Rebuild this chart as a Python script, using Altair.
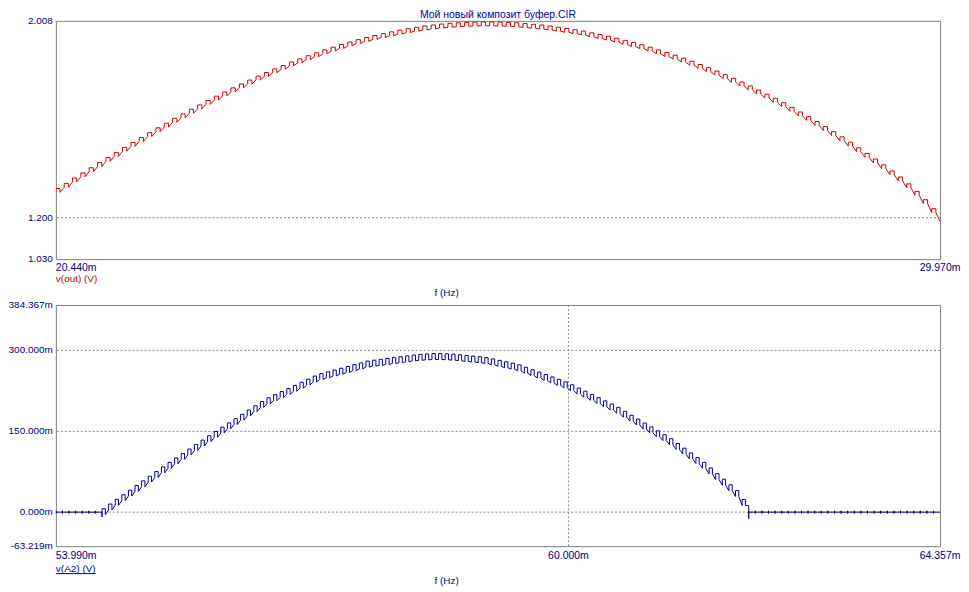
import altair as alt
import pandas as pd

TITLE = "Мой новый композит буфер.CIR"

# ---------------- top panel data (v(out), V) ----------------
top_x_domain = [20.440, 29.970]
top_y_domain = [1.030, 2.008]
# level of each ripple period, read left to right
top_levels = [
    1.312, 1.333, 1.355, 1.376, 1.397, 1.418, 1.439, 1.460, 1.481, 1.501,
    1.521, 1.541, 1.561, 1.580, 1.600, 1.618, 1.637, 1.655, 1.673, 1.691,
    1.708, 1.725, 1.741, 1.757, 1.773, 1.788, 1.803, 1.817, 1.831, 1.844,
    1.857, 1.869, 1.881, 1.892, 1.903, 1.913, 1.923, 1.932, 1.940, 1.948,
    1.955, 1.962, 1.968, 1.974, 1.979, 1.983, 1.987, 1.990, 1.992, 1.994,
    1.995, 1.996,
    1.996, 1.995, 1.994, 1.992, 1.989, 1.986, 1.983, 1.979, 1.974, 1.969,
    1.964, 1.958, 1.951, 1.944, 1.937, 1.929, 1.920, 1.911, 1.902, 1.892,
    1.881, 1.870, 1.859, 1.847, 1.834, 1.821, 1.808, 1.794, 1.779, 1.764,
    1.749, 1.733, 1.716, 1.699, 1.682, 1.664, 1.645, 1.626, 1.607, 1.587,
    1.566, 1.545, 1.524, 1.502, 1.479, 1.456, 1.433, 1.409, 1.384, 1.359,
    1.331, 1.300, 1.266, 1.229, 1.192,
]
top_ripple = 0.008
top_grid_y = [1.200]
top_y_ticks = [1.030, 1.200, 2.008]
top_y_labels = ["1.030", "1.200", "2.008"]
top_x_ticks = [20.440, 29.970]
top_x_labels = ["20.440m", "29.970m"]
top_series = "v(out) (V)"

# ---------------- bottom panel data (v(A2), mV) ----------------
bot_x_domain = [53.990, 64.357]
bot_y_domain = [-63.219, 384.367]
bot_periods = 134
bot_first_active = 7
bot_levels = [
    0.9, 9.6, 18.2, 26.8, 35.4, 44.0, 52.6, 61.2, 69.8, 78.4,
    86.8, 95.1, 103.4, 111.6, 119.9, 128.2, 136.3, 144.2, 152.2, 160.1,
    168.1, 176.0, 184.0, 191.9, 199.8, 206.7, 212.5, 218.2, 224.0, 229.7,
    235.5, 241.2, 247.0, 251.6, 254.9, 258.2, 261.5, 264.8, 268.1, 271.4,
    274.7, 276.5, 278.0, 279.6, 281.2, 282.8, 284.4, 286.0, 287.3, 288.1,
    288.8, 288.7, 288.3, 287.6, 286.4, 285.2, 284.1, 282.9, 281.4, 278.8,
    276.1, 273.5, 270.9, 267.8, 263.3, 258.8, 254.3, 249.8, 245.3, 240.8,
    236.3, 230.8, 224.8, 218.9, 212.9, 207.0, 201.0, 195.0, 188.9, 181.6,
    174.3, 167.1, 159.8, 152.6, 145.4, 138.2, 130.7, 122.0, 113.2, 104.4,
    95.7, 86.9, 76.5, 66.0, 55.6, 45.2, 34.6, 18.0,
]
bot_ripple = 5.5
bot_idle_tick = 2.5
bot_glitches = [-9.0, -12.0]
bot_grid_y = [0.0, 150.0, 300.0]
bot_grid_x = [60.0]
bot_y_ticks = [-63.219, 0.0, 150.0, 300.0, 384.367]
bot_y_labels = ["-63.219m", "0.000m", "150.000m", "300.000m", "384.367m"]
bot_x_ticks = [53.990, 60.000, 64.357]
bot_x_labels = ["53.990m", "60.000m", "64.357m"]
bot_series = "v(A2) (V)"

AXIS_TITLE = "f (Hz)"

# ---------------- styling ----------------
FONT = "Liberation Sans"
NAVY = "#000080"
TITLE_BLUE = "#0000a8"
RED = "#cc0000"
BLUE_LINE = "#000099"
GRID = "#888888"
FRAME = "#808080"
W = 887
H_TOP = 239
H_BOT = 242


def tooth(rows, xa, xm, lv, a):
    # up-jump at period start, flat high half, down-jump at half period,
    # low half runs on to the next period's low level
    rows += [(xa, lv - a), (xa, lv + a), (xm, lv + a), (xm, lv - a)]


def top_path():
    n = len(top_levels) - 1
    p = (top_x_domain[1] - top_x_domain[0]) / n
    rows = []
    for i, lv in enumerate(top_levels[:-1]):
        xa = top_x_domain[0] + i * p
        tooth(rows, xa, xa + p / 2, lv, top_ripple)
    rows.append((top_x_domain[1], top_levels[-1] - top_ripple))
    return pd.DataFrame({"x": [r[0] for r in rows], "y": [r[1] for r in rows],
                         "idx": list(range(len(rows)))})


def bot_path():
    p = (bot_x_domain[1] - bot_x_domain[0]) / bot_periods
    last_active = bot_first_active + len(bot_levels) - 1
    rows = []
    for i in range(bot_periods):
        xa = bot_x_domain[0] + i * p
        xm = xa + p / 2
        xb = xa + p
        if bot_first_active <= i <= last_active:
            lv = bot_levels[i - bot_first_active]
            if i == bot_first_active:
                rows += [(xa, 0.0), (xa, bot_glitches[0])]
            tooth(rows, xa, xm, lv, bot_ripple)
            if i == last_active:
                rows += [(xb, lv - bot_ripple), (xb, bot_glitches[1]), (xb, 0.0)]
        else:
            rows += [(xa, 0.0), (xa, bot_idle_tick), (xa, -bot_idle_tick), (xa, 0.0)]
    rows.append((bot_x_domain[1], 0.0))
    return pd.DataFrame({"x": [r[0] for r in rows], "y": [r[1] for r in rows],
                         "idx": list(range(len(rows)))})


def panel(df, xdom, ydom, H, color, grid_y, grid_x, y_ticks, y_labels,
          x_ticks, x_labels, series, series_color, title=None, underline=False,
          lab_dy=4, ser_dy=15, ax_dy=29):
    xs = alt.Scale(domain=xdom, nice=False, zero=False)
    ys = alt.Scale(domain=ydom, nice=False, zero=False)
    layers = []
    layers.append(
        alt.Chart(pd.DataFrame({"v": grid_y})).mark_rule(
            color=GRID, strokeDash=[2, 2], strokeWidth=1
        ).encode(y=alt.Y("v:Q", scale=ys, axis=None))
    )
    if grid_x:
        layers.append(
            alt.Chart(pd.DataFrame({"v": grid_x})).mark_rule(
                color=GRID, strokeDash=[2, 2], strokeWidth=1
            ).encode(x=alt.X("v:Q", scale=xs, axis=None))
        )
    layers.append(
        alt.Chart(df).mark_line(color=color, strokeWidth=1, clip=True).encode(
            x=alt.X("x:Q", scale=xs, axis=None),
            y=alt.Y("y:Q", scale=ys, axis=None),
            order=alt.Order("idx:Q"),
        )
    )
    layers.append(
        alt.Chart(pd.DataFrame({"v": y_ticks, "t": y_labels})).mark_text(
            align="right", baseline="middle", dx=-3, font=FONT, fontSize=10, color=NAVY
        ).encode(y=alt.Y("v:Q", scale=ys, axis=None), x=alt.value(0), text="t:N")
    )
    layers.append(
        alt.Chart(pd.DataFrame({"v": x_ticks[:1], "t": x_labels[:1]})).mark_text(
            align="left", baseline="top", font=FONT, fontSize=10.5, color=NAVY
        ).encode(x=alt.X("v:Q", scale=xs, axis=None), y=alt.value(H + lab_dy), text="t:N")
    )
    layers.append(
        alt.Chart(pd.DataFrame({"v": x_ticks[1:], "t": x_labels[1:]})).mark_text(
            align="center", baseline="top", font=FONT, fontSize=10.5, color=NAVY
        ).encode(x=alt.X("v:Q", scale=xs, axis=None), y=alt.value(H + lab_dy), text="t:N")
    )
    layers.append(
        alt.Chart(pd.DataFrame({"t": [series]})).mark_text(
            align="left", baseline="top", font=FONT, fontSize=10, color=series_color
        ).encode(x=alt.value(0), y=alt.value(H + ser_dy), text="t:N")
    )
    if underline:
        layers.append(
            alt.Chart(pd.DataFrame({"t": [series]})).mark_rule(
                color=series_color, strokeWidth=1
            ).encode(x=alt.value(0), x2=alt.value(40), y=alt.value(H + ser_dy + 9.5))
        )
    layers.append(
        alt.Chart(pd.DataFrame({"t": [AXIS_TITLE]})).mark_text(
            align="center", baseline="top", font=FONT, fontSize=10, color=NAVY
        ).encode(x=alt.value(392), y=alt.value(H + ax_dy), text="t:N")
    )
    if title:
        layers.append(
            alt.Chart(pd.DataFrame({"t": [title]})).mark_text(
                align="center", baseline="alphabetic", font=FONT, fontSize=10.5, color=TITLE_BLUE
            ).encode(x=alt.value(W / 2), y=alt.value(-3), text="t:N")
        )
        layers.append(
            alt.Chart(pd.DataFrame({"t": ["anchor"]})).mark_rule(
                color="white", strokeWidth=1
            ).encode(x=alt.value(-47), x2=alt.value(-46), y=alt.value(100))
        )
    return alt.layer(*layers).properties(width=W, height=H)


top = panel(top_path(), top_x_domain, top_y_domain, H_TOP, RED, top_grid_y, [],
            top_y_ticks, top_y_labels, top_x_ticks, top_x_labels, top_series, RED,
            title=TITLE, lab_dy=4, ser_dy=15, ax_dy=29)
bottom = panel(bot_path(), bot_x_domain, bot_y_domain, H_BOT, BLUE_LINE, bot_grid_y, bot_grid_x,
               bot_y_ticks, bot_y_labels, bot_x_ticks, bot_x_labels, bot_series, TITLE_BLUE,
               underline=True, lab_dy=5, ser_dy=18, ax_dy=30)

chart = alt.vconcat(top, bottom, spacing=46, bounds="flush").properties(
    padding={"left": 0, "top": 0, "right": 0, "bottom": 0}
).configure_view(stroke=FRAME, strokeWidth=1)

chart.save("out.html", embed_options={"renderer": "svg", "actions": False})
